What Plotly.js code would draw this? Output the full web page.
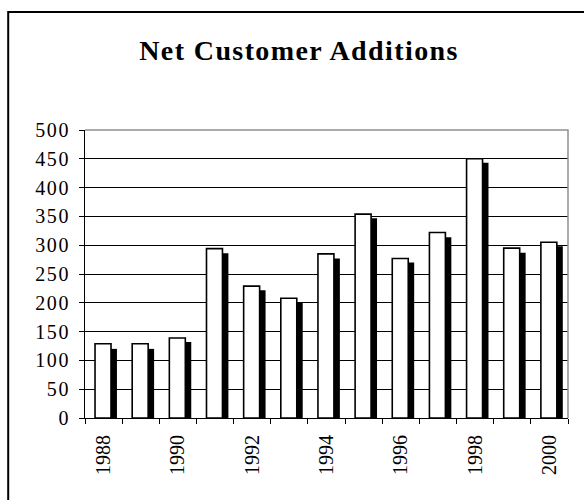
<!DOCTYPE html>
<html>
<head>
<meta charset="utf-8">
<script src="https://cdn.plot.ly/plotly-3.0.1.min.js"></script>
<style>
html,body{margin:0;padding:0;background:#fff;}
#chart{width:584px;height:500px;}
#chart .ytick text{letter-spacing:1.6px;}
#chart .gtitle{letter-spacing:1.4px;}
</style>
</head>
<body>
<div id="chart"></div>
<script>
var years = ['1988','1989','1990','1991','1992','1993','1994','1995','1996','1997','1998','1999','2000'];
var tickLabels = ['1988','','1990','','1992','','1994','','1996','','1998','','2000'];
var frontValues = [129, 129, 139, 294, 229, 208, 285, 354, 277, 322, 450, 295, 305];
var shadowValues = [120, 120, 132, 286, 222, 201, 277, 347, 270, 314, 443, 287, 298];

var fontFam = '"Liberation Serif", "Times New Roman", serif';

var traces = [
  {
    type: 'bar', x: years, y: shadowValues,
    offset: 0.08, width: 0.28,
    marker: {color: '#000000', line: {width: 0}},
    hoverinfo: 'x+y', showlegend: false
  },
  {
    type: 'bar', x: years, y: frontValues,
    offset: -0.23, width: 0.43,
    marker: {color: '#ffffff', line: {color: '#000000', width: 1.6}},
    hoverinfo: 'x+y', showlegend: false
  }
];

var layout = {
  width: 584, height: 500,
  margin: {l: 85, r: 16, t: 130, b: 82, pad: 0},
  paper_bgcolor: '#ffffff', plot_bgcolor: '#ffffff',
  font: {family: fontFam, color: '#000000', size: 20},
  barmode: 'overlay',
  showlegend: false,
  title: {
    text: '<b>Net Customer Additions</b>',
    font: {family: fontFam, size: 28, color: '#000000'},
    xref: 'container', yref: 'container',
    x: 0.512, xanchor: 'center', y: 0.9, yanchor: 'middle'
  },
  xaxis: {
    type: 'category',
    tickmode: 'array', tickvals: years, ticktext: tickLabels,
    tickson: 'boundaries',
    ticks: 'outside', ticklen: 5, tickcolor: '#000000', tickwidth: 1,
    tickangle: -90, ticklabelstandoff: 8,
    showline: true, linecolor: '#000000', linewidth: 1,
    showgrid: false, zeroline: false,
    tickfont: {family: fontFam, size: 20, color: '#000000'}
  },
  yaxis: {
    range: [0, 500], dtick: 50, tick0: 0,
    ticks: 'outside', ticklen: 5, tickcolor: '#000000', tickwidth: 1,
    ticklabelstandoff: 5,
    showline: true, linecolor: '#000000', linewidth: 1,
    showgrid: true, gridcolor: '#000000', gridwidth: 1,
    zeroline: false,
    tickfont: {family: fontFam, size: 20, color: '#000000'}
  },
  shapes: [
    {type: 'path', xref: 'paper', yref: 'paper',
     path: 'M 0 1 L 1 1 L 1 0',
     line: {color: '#909090', width: 1.5}, layer: 'above'},
    {type: 'path', xref: 'paper', yref: 'paper',
     path: 'M -0.159 -0.35 L -0.159 1.41 L 1.1 1.41',
     line: {color: '#000000', width: 2}, layer: 'above'}
  ]
};

Plotly.newPlot('chart', traces, layout, {displayModeBar: false, staticPlot: true});
</script>
</body>
</html>
